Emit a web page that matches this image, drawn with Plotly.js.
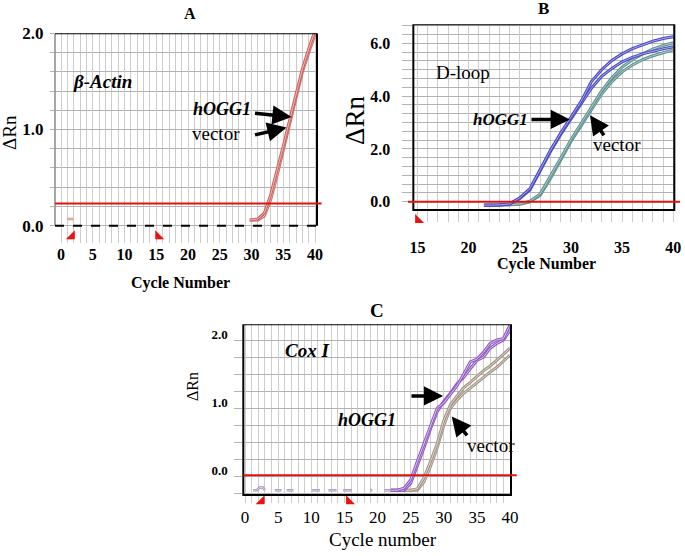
<!DOCTYPE html>
<html>
<head>
<meta charset="utf-8">
<script src="https://cdn.plot.ly/plotly-3.0.1.min.js"></script>
<style>html,body{margin:0;padding:0;background:#fff;}#chart{width:685px;height:556px;}</style>
</head>
<body>
<div id="chart"></div>
<script>
// ---------- Panel A : beta-Actin ----------
const cyclesA = [29.7, 30, 31, 32, 33, 34, 35, 36, 37, 38, 39, 40];
const hoggA   = [0.06, 0.06, 0.07, 0.13, 0.32, 0.57, 0.83, 1.10, 1.38, 1.63, 1.84, 2.03];
const vectorA = [0.06, 0.06, 0.06, 0.10, 0.27, 0.52, 0.79, 1.06, 1.34, 1.60, 1.80, 1.99];
const earlyA_x = [1.0, 1.9];
const earlyA_y = [0.07, 0.07];
const thresholdA = 0.23;
const baseMarksA_x = [1.7, 15.3];
const baseMarksA_y = [-0.11, -0.11];

// ---------- Panel B : D-loop ----------
const cyclesB  = [21.5, 22, 23, 24, 25, 26, 27, 28, 29, 30, 31, 32, 33, 34, 35, 36, 37, 38, 39, 40];
const hoggB1   = [-0.13, -0.13, -0.12, -0.08, 0.15, 0.50, 1.25, 1.95, 2.60, 3.20, 3.80, 4.55, 5.00, 5.35, 5.60, 5.80, 5.95, 6.08, 6.18, 6.25];
const hoggB2   = [-0.13, -0.13, -0.12, -0.09, 0.12, 0.45, 1.20, 1.90, 2.55, 3.12, 3.68, 4.30, 4.75, 5.05, 5.30, 5.47, 5.60, 5.70, 5.79, 5.87];
const vectorB1 = [-0.13, -0.13, -0.12, -0.11, -0.08, 0.02, 0.30, 0.95, 1.65, 2.35, 2.95, 3.60, 4.20, 4.70, 5.10, 5.38, 5.60, 5.78, 5.92, 6.02];
const vectorB2 = [-0.13, -0.13, -0.12, -0.11, -0.09, 0.00, 0.25, 0.88, 1.58, 2.28, 2.88, 3.50, 4.08, 4.55, 4.92, 5.18, 5.38, 5.53, 5.65, 5.75];
const thresholdB = 0.0;
const baseMarksB_x = [15.07];
const baseMarksB_y = [-0.69];

// ---------- Panel C : Cox I ----------
const cyclesC  = [22, 23, 24, 25, 26, 27, 28, 29, 30, 31, 32, 33, 34, 35, 36, 37, 38, 39, 40];
const hoggC1   = [-0.20, -0.20, -0.17, -0.05, 0.22, 0.48, 0.75, 1.00, 1.08, 1.20, 1.33, 1.50, 1.68, 1.72, 1.82, 1.95, 2.00, 2.02, 2.22];
const hoggC2   = [-0.20, -0.20, -0.20, -0.10, 0.15, 0.42, 0.70, 0.95, 1.10, 1.22, 1.36, 1.45, 1.58, 1.70, 1.75, 1.88, 1.95, 2.00, 2.14];
const vectorC1 = [-0.20, -0.20, -0.20, -0.20, -0.18, -0.02, 0.22, 0.48, 0.82, 1.05, 1.18, 1.30, 1.38, 1.47, 1.55, 1.62, 1.70, 1.79, 1.88];
const vectorC2 = [-0.20, -0.20, -0.20, -0.20, -0.20, -0.08, 0.15, 0.42, 0.75, 1.00, 1.12, 1.22, 1.30, 1.38, 1.46, 1.53, 1.60, 1.69, 1.78];
const earlyC_x = [1.2, 1.8, 2.2, 2.7, 3.0, null, 4.5, 5.5, null, 6.3, 7.3, null, 10.1, 11.3, null, 12.6, 13.8, null, 14.8, 16.1, null, 18.9, 19.2, null, 21.0, 22.0];
const earlyC_y = [-0.20, -0.20, -0.16, -0.16, -0.20, null, -0.20, -0.20, null, -0.20, -0.20, null, -0.20, -0.20, null, -0.20, -0.20, null, -0.20, -0.20, null, -0.20, -0.20, null, -0.20, -0.20];
const thresholdC = 0.02;
const baseMarksC_x = [2.5, 15.7];
const baseMarksC_y = [-0.36, -0.36];

// tick labels
const tickA_x = [0, 5, 10, 15, 20, 25, 30, 35, 40];
const tickA_y = ['0.0', '1.0', '2.0'];
const tickB_x = [15, 20, 25, 30, 35, 40];
const tickB_y = ['0.0', '2.0', '4.0', '6.0'];
const tickC_y = ['0.0', '1.0', '2.0'];

const F = 'Liberation Serif';

function dbl(x, y, dark, light, xa, ya, w) {
  return [
    {x: x, y: y, xaxis: xa, yaxis: ya, mode: 'lines', line: {color: dark, width: w || 3}, hoverinfo: 'skip'},
    {x: x, y: y, xaxis: xa, yaxis: ya, mode: 'lines', line: {color: light, width: 1}, hoverinfo: 'skip'}
  ];
}
function marks(x, y, xa, ya, syms) {
  return {x: x, y: y, xaxis: xa, yaxis: ya, mode: 'markers', cliponaxis: false,
    marker: {symbol: syms, size: 10, color: '#ee1111', line: {width: 0}}, hoverinfo: 'skip'};
}

const data = [].concat(
  dbl(earlyA_x, earlyA_y, '#d98a70', '#f0c8b8', 'x', 'y', 2.5),
  dbl(cyclesA, vectorA, '#d0706a', '#f2c6bc', 'x', 'y'),
  dbl(cyclesA, hoggA, '#c8605e', '#f0b8b0', 'x', 'y'),
  [marks(baseMarksA_x, baseMarksA_y, 'x', 'y', ['triangle-se', 'triangle-sw'])],
  dbl(cyclesB, vectorB2, '#5f9090', '#b0cccc', 'x2', 'y2'),
  dbl(cyclesB, vectorB1, '#5f9090', '#b0cccc', 'x2', 'y2'),
  dbl(cyclesB, hoggB2, '#4848c0', '#a8a8f0', 'x2', 'y2'),
  dbl(cyclesB, hoggB1, '#4848c0', '#a8a8f0', 'x2', 'y2'),
  [marks(baseMarksB_x, baseMarksB_y, 'x2', 'y2', ['triangle-sw'])],
  dbl(earlyC_x, earlyC_y, '#a58fb8', '#ddd0ea', 'x3', 'y3', 2.5),
  dbl(cyclesC, vectorC2, '#a39585', '#dcd4cc', 'x3', 'y3'),
  dbl(cyclesC, vectorC1, '#a39585', '#dcd4cc', 'x3', 'y3'),
  dbl(cyclesC, hoggC2, '#9058c0', '#d8c4f0', 'x3', 'y3'),
  dbl(cyclesC, hoggC1, '#9058c0', '#d8c4f0', 'x3', 'y3'),
  [marks(baseMarksC_x, baseMarksC_y, 'x3', 'y3', ['triangle-se', 'triangle-sw'])]
);

function steps(a, b, s) { const o = []; for (let v = a; v <= b + 1e-9; v += s) o.push(+v.toFixed(4)); return o; }

const gridV = '#cdcdcd', gridH = '#b2b2b2';
function xax(domain, range, anchor, standoff, fontSize, bold, tickvals) {
  return {
    domain: domain, range: range, anchor: anchor,
    tickmode: 'array', tickvals: tickvals, ticks: '',
    ticklabelstandoff: standoff,
    showgrid: true, gridcolor: gridV, gridwidth: 1, zeroline: false, showline: false,
    tickfont: {family: F, size: fontSize, color: '#000', weight: bold ? 'bold' : 'normal'},
    minor: {dtick: 1, tick0: 0, ticks: '', showgrid: true, gridcolor: gridV, gridwidth: 1},
    fixedrange: true
  };
}
function yax(domain, range, anchor, minorVals, ticklen, fontSize, labels, extra) {
  const vals = labels.map(Number);
  return Object.assign({
    domain: domain, range: range, anchor: anchor,
    tickmode: 'array', tickvals: vals, ticktext: labels,
    ticks: 'outside', ticklen: ticklen, tickcolor: gridH, tickwidth: 1,
    showgrid: true, gridcolor: gridH, gridwidth: 1, zeroline: false, showline: false,
    tickfont: {family: F, size: fontSize, color: '#000', weight: 'bold'},
    minor: {tickmode: 'array', tickvals: minorVals, ticks: 'outside', ticklen: ticklen, tickcolor: gridH, showgrid: true, gridcolor: gridH, gridwidth: 1},
    fixedrange: true
  }, extra || {});
}

const layout = {
  width: 685, height: 556,
  margin: {l: 0, r: 0, t: 0, b: 0},
  paper_bgcolor: '#fff', plot_bgcolor: '#fff',
  showlegend: false,
  xaxis: xax([0.0803, 0.4628], [-0.95, 40.3], 'y', 0, 16, true, tickA_x),
  yaxis: yax([0.5630, 0.9401], [-0.18, 2.0], 'x', steps(0, 2.0, 0.2), 4, 17, tickA_y, {ticklabelstandoff: 3}),
  xaxis2: xax([0.6034, 0.9844], [14.6, 40.1], 'y2', 14, 16, true, tickB_x),
  yaxis2: yax([0.6010, 0.9563], [-0.76, 6.72], 'x2', steps(0, 6.67, 1 / 3), 10, 16, tickB_y, {ticklabelstandoff: 9}),
  xaxis3: xax([0.3552, 0.746], [-0.26, 40.15], 'y3', 2, 17, false, tickA_x),
  yaxis3: yax([0.0950, 0.4167], [-0.39, 2.23], 'x3', steps(-0.25, 2.0, 0.25), 8, 13, tickC_y, {ticklabelshift: -6, ticklabelstandoff: 4}),
  shapes: [
    // Panel A borders
    {type: 'line', xref: 'x domain', yref: 'y', x0: 0, x1: 0, y0: 0, y1: 2.0, line: {color: '#8a8a8a', width: 1.5}},
    {type: 'line', xref: 'x domain', yref: 'y', x0: 0, x1: 1, y0: 2.0, y1: 2.0, line: {color: '#000', width: 2}},
    {type: 'line', xref: 'x domain', yref: 'y', x0: 1, x1: 1, y0: 0, y1: 2.0, line: {color: '#000', width: 2}},
    {type: 'line', xref: 'x domain', yref: 'y', x0: 0, x1: 1, y0: 0, y1: 0, line: {color: '#000', width: 2, dash: 'dash'}},
    {type: 'line', xref: 'paper', yref: 'y', x0: 0.0803, x1: 0.4695, y0: thresholdA, y1: thresholdA, line: {color: '#e31010', width: 2}},
    // Panel B
    {type: 'rect', xref: 'x2 domain', yref: 'y2', x0: 0, x1: 1, y0: -0.31, y1: 6.72, line: {color: '#000', width: 2}},
    {type: 'line', xref: 'paper', yref: 'y2', x0: 0.5956, x1: 0.9927, y0: thresholdB, y1: thresholdB, line: {color: '#e31010', width: 2}},
    // Panel C
    {type: 'rect', xref: 'x3 domain', yref: 'y3', x0: 0, x1: 1, y0: -0.27, y1: 2.23, line: {color: '#000', width: 2}},
    {type: 'line', xref: 'paper', yref: 'y3', x0: 0.3552, x1: 0.7543, y0: thresholdC, y1: thresholdC, line: {color: '#e31010', width: 2}}
  ],
  annotations: []
};

function txt(x, y, text, size, opts) {
  return Object.assign({x: x, y: y, xref: 'paper', yref: 'paper', text: text, showarrow: false,
    xanchor: 'center', yanchor: 'middle', font: {family: F, size: size, color: '#000'}}, opts || {});
}
function dtxt(xa, ya, x, y, text, size, weight, style) {
  return {x: x, y: y, xref: xa, yref: ya, text: text, showarrow: false, xanchor: 'center', yanchor: 'middle',
    font: {family: F, size: size, color: '#000', weight: weight || 'normal', style: style || 'normal'}};
}
function arrow(xa, ya, x0, y0, x1, y1) {
  return {xref: xa, yref: ya, axref: xa, ayref: ya, ax: x0, ay: y0, x: x1, y: y1, text: '',
    showarrow: true, arrowhead: 2, arrowsize: 1.1, arrowwidth: 3.5, arrowcolor: '#000', standoff: 0, startstandoff: 0};
}

layout.annotations.push(
  // titles
  txt(0.2774, 0.9766, 'A', 16, {font: {family: F, size: 16, color: '#000', weight: 'bold'}}),
  txt(0.7940, 0.9856, 'B', 17, {font: {family: F, size: 17, color: '#000', weight: 'bold'}}),
  txt(0.5504, 0.4424, 'C', 19, {font: {family: F, size: 19, color: '#000', weight: 'bold'}}),
  // axis titles
  txt(0.2628, 0.4915, 'Cycle Number', 16, {font: {family: F, size: 16, color: '#000', weight: 'bold'}}),
  txt(0.7981, 0.5250, 'Cycle Number', 16, {font: {family: F, size: 16, color: '#000', weight: 'bold'}}),
  txt(0.5591, 0.0300, 'Cycle number', 19),
  txt(0.0146, 0.7608, 'ΔRn', 19, {textangle: -90}),
  txt(0.5182, 0.7842, 'ΔRn', 27, {textangle: -90}),
  txt(0.2818, 0.3040, 'ΔRn', 16, {textangle: -90}),
  // panel labels
  dtxt('x', 'y', 6.5, 1.50, 'β-Actin', 19, 'bold', 'italic'),
  dtxt('x', 'y', 25.3, 1.21, 'hOGG1', 18, 'bold', 'italic'),
  dtxt('x', 'y', 24.4, 0.96, 'vector', 19),
  dtxt('x2', 'y2', 19.46, 4.91, 'D-loop', 19),
  dtxt('x2', 'y2', 23.15, 3.12, 'hOGG1', 17, 'bold', 'italic'),
  dtxt('x2', 'y2', 34.47, 2.15, 'vector', 19),
  dtxt('x3', 'y3', 9.3, 1.85, 'Cox I', 19, 'bold', 'italic'),
  dtxt('x3', 'y3', 18.4, 0.83, 'hOGG1', 18, 'bold', 'italic'),
  dtxt('x3', 'y3', 37.2, 0.46, 'vector', 19),
  // arrows
  arrow('x', 'y', 30.3, 1.17, 36.3, 1.13),
  arrow('x', 'y', 30.3, 0.94, 35.5, 1.02),
  arrow('x2', 'y2', 26.0, 3.12, 29.9, 3.12),
  arrow('x2', 'y2', 33.33, 2.46, 31.86, 3.28),
  arrow('x3', 'y3', 24.9, 1.18, 29.9, 1.18),
  arrow('x3', 'y3', 33.7, 0.58, 31.2, 0.88)
);

Plotly.newPlot('chart', data, layout, {staticPlot: true, displayModeBar: false});
</script>
</body>
</html>
